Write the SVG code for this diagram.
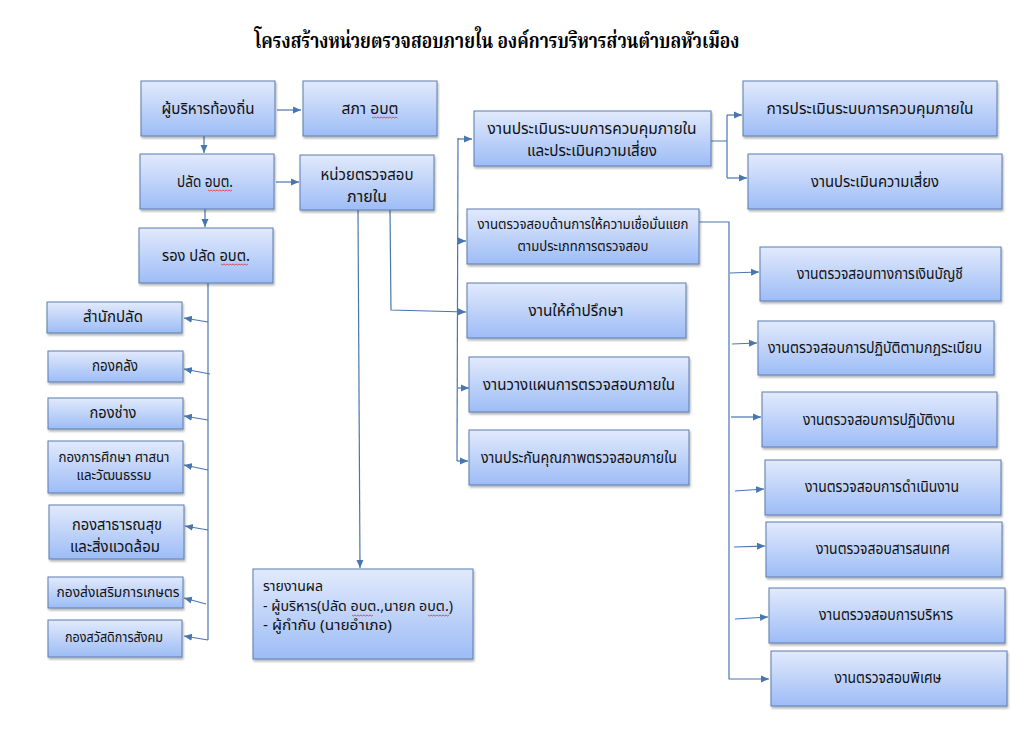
<svg xmlns="http://www.w3.org/2000/svg" width="1026" height="747" viewBox="0 0 1026 747">
<defs>
<linearGradient id="g" x1="0" y1="0" x2="0" y2="1">
<stop offset="0" stop-color="#e2eafc"/>
<stop offset="1" stop-color="#9dbcf6"/>
</linearGradient>
<filter id="sh" x="-5%" y="-10%" width="115%" height="130%">
<feDropShadow dx="1" dy="2" stdDeviation="1" flood-color="#000" flood-opacity="0.3"/>
</filter>
<marker id="ar" markerUnits="userSpaceOnUse" markerWidth="9" markerHeight="8" refX="8" refY="4" orient="auto">
<path d="M0,0.5 L8,4 L0,7.5 z" fill="#4a76b0"/>
</marker>
</defs>
<style>
.b{fill:url(#g);stroke:#5a7cae;stroke-width:1;filter:url(#sh)}
.t{font-family:"Tahoma","Noto Sans Thai","Noto Sans","DejaVu Sans",sans-serif;font-size:15.5px;fill:#111;text-anchor:middle}
.s{font-size:13.5px}
.l{text-anchor:start;font-size:14px}
.c{fill:none;stroke:#4a76b0;stroke-width:1.2}
.a{marker-end:url(#ar)}
.w{fill:none;stroke:#e0303a;stroke-width:0.8}
.ti{font-family:"Liberation Serif","Noto Serif Thai","Noto Sans Thai",serif;font-size:21px;font-weight:bold;fill:#000;text-anchor:middle}
</style>
<rect width="1026" height="747" fill="#fff"/>
<text class="ti" x="497" y="48" textLength="485" lengthAdjust="spacingAndGlyphs">โครงสร้างหน่วยตรวจสอบภายใน องค์การบริหารส่วนตำบลหัวเมือง</text>

<g id="connectors">
<path class="c a" d="M277,110 L301,110"/>
<path class="c a" d="M204,136 L204,153"/>
<path class="c a" d="M276,182 L299,182"/>
<path class="c a" d="M205,209 L205,227"/>
<path class="c" d="M208,283 L208,640"/>
<path class="c a" d="M208,322 L184,318"/>
<path class="c a" d="M210,374 L184,369"/>
<path class="c a" d="M208,420 L184,416"/>
<path class="c a" d="M208,470 L184,465"/>
<path class="c a" d="M208,530 L185,526"/>
<path class="c a" d="M206,604 L184,598"/>
<path class="c a" d="M208,640 L184,636"/>
<path class="c a" d="M358,210 L360,568"/>
<path class="c a" d="M390,210 L391,310 L466,312"/>
<path class="c" d="M458,138 L457,461"/>
<path class="c a" d="M458,139 L472,139"/>
<path class="c a" d="M458,241 L466,241"/>
<path class="c a" d="M458,388 L469,388"/>
<path class="c a" d="M457,461 L468,461"/>
<path class="c" d="M711,141 L727,141 M727,115 L727,178"/>
<path class="c a" d="M727,115 L742,115"/>
<path class="c a" d="M727,178 L747,178"/>
<path class="c a" d="M699,222 L729,222 L729,679 L769,679"/>
<path class="c a" d="M730,273 L759,272"/>
<path class="c a" d="M732,344 L757,343"/>
<path class="c a" d="M731,417 L761,417"/>
<path class="c a" d="M735,491 L764,489"/>
<path class="c a" d="M734,547 L765,546"/>
<path class="c a" d="M735,619 L768,617"/>
</g>

<g id="n-executive"><rect class="b" x="141" y="81" width="134" height="55"/><text class="t" x="208" y="114" textLength="93" lengthAdjust="spacingAndGlyphs">ผู้บริหารท้องถิ่น</text></g>
<g id="n-council"><rect class="b" x="303" y="81" width="134" height="55"/><text class="t" x="370" y="114" textLength="57" lengthAdjust="spacingAndGlyphs">สภา อบต</text><path class="w" d="M372,117 l1.5,1 l1.5,-1 l1.5,1 l1.5,-1 l1.5,1 l1.5,-1 l1.5,1 l1.5,-1 l1.5,1 l1.5,-1 l1.5,1 l1.5,-1 l1.5,1 l1.5,-1 l1.5,1 l1.5,-1 l1.5,1"/></g>
<g id="n-palad"><rect class="b" x="140" y="154" width="134" height="55"/><text class="t" x="205" y="187" textLength="56" lengthAdjust="spacingAndGlyphs">ปลัด อบต.</text><path class="w" d="M208,190 l1.5,1 l1.5,-1 l1.5,1 l1.5,-1 l1.5,1 l1.5,-1 l1.5,1 l1.5,-1 l1.5,1 l1.5,-1 l1.5,1 l1.5,-1 l1.5,1 l1.5,-1 l1.5,1 l1.5,-1"/></g>
<g id="n-audit"><rect class="b" x="300" y="155" width="134" height="55"/><text class="t" x="367" y="180" textLength="93" lengthAdjust="spacingAndGlyphs">หน่วยตรวจสอบ</text><text class="t" x="367" y="202" textLength="40" lengthAdjust="spacingAndGlyphs">ภายใน</text></g>
<g id="n-deputy"><rect class="b" x="139" y="228" width="134" height="55"/><text class="t" x="206" y="261" textLength="88" lengthAdjust="spacingAndGlyphs">รอง ปลัด อบต.</text><path class="w" d="M221,264 l1.5,1 l1.5,-1 l1.5,1 l1.5,-1 l1.5,1 l1.5,-1 l1.5,1 l1.5,-1 l1.5,1 l1.5,-1 l1.5,1 l1.5,-1 l1.5,1 l1.5,-1 l1.5,1 l1.5,-1 l1.5,1 l1.5,-1"/></g>

<g id="n-office"><rect class="b" x="47" y="302" width="135" height="31"/><text class="t" x="113" y="322" textLength="60" lengthAdjust="spacingAndGlyphs">สำนักปลัด</text></g>
<g id="n-finance"><rect class="b" x="48" y="351" width="135" height="31"/><text class="t" x="115" y="371" textLength="46" lengthAdjust="spacingAndGlyphs">กองคลัง</text></g>
<g id="n-engineering"><rect class="b" x="48" y="398" width="135" height="31"/><text class="t" x="113" y="418" textLength="47" lengthAdjust="spacingAndGlyphs">กองช่าง</text></g>
<g id="n-education"><rect class="b" x="48" y="441" width="135" height="52"/><text class="t s" x="114" y="462" textLength="111" lengthAdjust="spacingAndGlyphs">กองการศึกษา ศาสนา</text><text class="t s" x="114" y="480" textLength="75" lengthAdjust="spacingAndGlyphs">และวัฒนธรรม</text></g>
<g id="n-health"><rect class="b" x="49" y="505" width="135" height="54"/><text class="t" x="117" y="530" textLength="90" lengthAdjust="spacingAndGlyphs">กองสาธารณสุข</text><text class="t" x="115" y="552" textLength="90" lengthAdjust="spacingAndGlyphs">และสิ่งแวดล้อม</text></g>
<g id="n-agri"><rect class="b" x="48" y="577" width="135" height="31"/><text class="t s" x="118" y="597" textLength="123" lengthAdjust="spacingAndGlyphs">กองส่งเสริมการเกษตร</text></g>
<g id="n-welfare"><rect class="b" x="48" y="620" width="134" height="37"/><text class="t s" x="114" y="642" textLength="98" lengthAdjust="spacingAndGlyphs">กองสวัสดิการสังคม</text></g>

<g id="n-report"><rect class="b" x="253" y="569" width="220" height="90"/><text class="t l" x="263" y="591" textLength="60" lengthAdjust="spacingAndGlyphs">รายงานผล</text><text class="t l" x="263" y="611" textLength="190" lengthAdjust="spacingAndGlyphs">- ผู้บริหาร(ปลัด อบต.,นายก อบต.)</text><text class="t l" x="263" y="630" textLength="129" lengthAdjust="spacingAndGlyphs">- ผู้กำกับ (นายอำเภอ)</text><path class="w" d="M352,615 l1.5,1 l1.5,-1 l1.5,1 l1.5,-1 l1.5,1 l1.5,-1 l1.5,1 l1.5,-1 l1.5,1 l1.5,-1 l1.5,1 l1.5,-1 l1.5,1 l1.5,-1 M428,615 l1.5,1 l1.5,-1 l1.5,1 l1.5,-1 l1.5,1 l1.5,-1 l1.5,1 l1.5,-1 l1.5,1 l1.5,-1 l1.5,1 l1.5,-1 l1.5,1 l1.5,-1"/></g>

<g id="n-assess"><rect class="b" x="474" y="111" width="237" height="55"/><text class="t" x="592" y="134" textLength="209" lengthAdjust="spacingAndGlyphs">งานประเมินระบบการควบคุมภายใน</text><text class="t" x="592" y="156" textLength="130" lengthAdjust="spacingAndGlyphs">และประเมินความเสี่ยง</text></g>
<g id="n-assurance"><rect class="b" x="467" y="209" width="232" height="55"/><text class="t s" x="583" y="229" textLength="211" lengthAdjust="spacingAndGlyphs">งานตรวจสอบด้านการให้ความเชื่อมั่นแยก</text><text class="t s" x="583" y="251" textLength="131" lengthAdjust="spacingAndGlyphs">ตามประเภทการตรวจสอบ</text></g>
<g id="n-consult"><rect class="b" x="467" y="283" width="219" height="55"/><text class="t" x="576" y="316" textLength="95" lengthAdjust="spacingAndGlyphs">งานให้คำปรึกษา</text></g>
<g id="n-plan"><rect class="b" x="469" y="357" width="220" height="55"/><text class="t" x="579" y="390" textLength="192" lengthAdjust="spacingAndGlyphs">งานวางแผนการตรวจสอบภายใน</text></g>
<g id="n-quality"><rect class="b" x="469" y="430" width="220" height="55"/><text class="t" x="579" y="463" textLength="196" lengthAdjust="spacingAndGlyphs">งานประกันคุณภาพตรวจสอบภายใน</text></g>

<g id="n-control"><rect class="b" x="743" y="81" width="254" height="55"/><text class="t" x="870" y="114" textLength="207" lengthAdjust="spacingAndGlyphs">การประเมินระบบการควบคุมภายใน</text></g>
<g id="n-risk"><rect class="b" x="748" y="154" width="254" height="55"/><text class="t" x="875" y="187" textLength="128" lengthAdjust="spacingAndGlyphs">งานประเมินความเสี่ยง</text></g>

<g id="n-fin-audit"><rect class="b" x="760" y="247" width="241" height="54"/><text class="t" x="880" y="279" textLength="166" lengthAdjust="spacingAndGlyphs">งานตรวจสอบทางการเงินบัญชี</text></g>
<g id="n-compliance"><rect class="b" x="758" y="321" width="236" height="54"/><text class="t" x="875" y="353" textLength="214" lengthAdjust="spacingAndGlyphs">งานตรวจสอบการปฏิบัติตามกฎระเบียบ</text></g>
<g id="n-operation"><rect class="b" x="762" y="392" width="235" height="55"/><text class="t" x="879" y="425" textLength="152" lengthAdjust="spacingAndGlyphs">งานตรวจสอบการปฏิบัติงาน</text></g>
<g id="n-performance"><rect class="b" x="765" y="460" width="236" height="55"/><text class="t" x="882" y="492" textLength="154" lengthAdjust="spacingAndGlyphs">งานตรวจสอบการดำเนินงาน</text></g>
<g id="n-it"><rect class="b" x="766" y="522" width="236" height="55"/><text class="t" x="883" y="554" textLength="134" lengthAdjust="spacingAndGlyphs">งานตรวจสอบสารสนเทศ</text></g>
<g id="n-mgmt"><rect class="b" x="769" y="588" width="236" height="55"/><text class="t" x="886" y="620" textLength="134" lengthAdjust="spacingAndGlyphs">งานตรวจสอบการบริหาร</text></g>
<g id="n-special"><rect class="b" x="771" y="651" width="236" height="55"/><text class="t" x="888" y="683" textLength="107" lengthAdjust="spacingAndGlyphs">งานตรวจสอบพิเศษ</text></g>
</svg>
